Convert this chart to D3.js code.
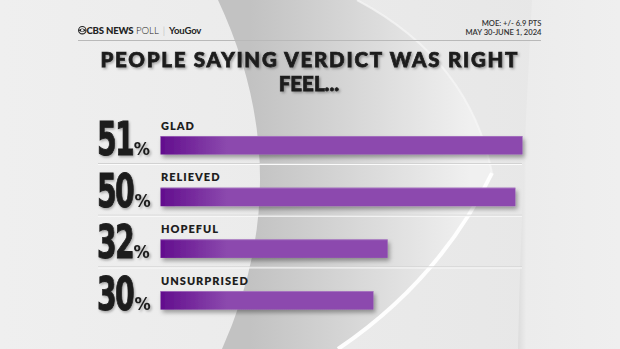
<!DOCTYPE html>
<html><head><meta charset="utf-8">
<script src="https://cdn.jsdelivr.net/npm/d3@7/dist/d3.min.js"></script>
<style>html,body{margin:0;padding:0;background:#ececec;overflow:hidden}svg{display:block}</style>
</head><body>
<script>
const categories = ["GLAD", "RELIEVED", "HOPEFUL", "UNSURPRISED"];
const values = [51, 50, 32, 30];
const titleLines = ["PEOPLE SAYING VERDICT WAS RIGHT", "FEEL..."];
const noteLines = ["MOE: +/- 6.9 PTS", "MAY 30-JUNE 1, 2024"];

const W = 620, H = 349;
const svg = d3.select("body").append("svg").attr("width", W).attr("height", H);
const defs = svg.append("defs");

const bg = defs.append("linearGradient").attr("id","bg").attr("x1",0).attr("x2",1).attr("y1",0).attr("y2",0);
bg.append("stop").attr("offset",0).attr("stop-color","#efefef");
bg.append("stop").attr("offset",1).attr("stop-color","#e6e6e6");
const cr = defs.append("linearGradient").attr("id","cr").attr("gradientUnits","userSpaceOnUse")
  .attr("x1",250).attr("x2",470).attr("y1",0).attr("y2",0);
cr.append("stop").attr("offset",0).attr("stop-color","#c2c2c2");
cr.append("stop").attr("offset",0.45).attr("stop-color","#d6d6d6");
cr.append("stop").attr("offset",1).attr("stop-color","#f0f0f0");
const rp = defs.append("linearGradient").attr("id","rp").attr("x1",0).attr("x2",1).attr("y1",0).attr("y2",0);
rp.append("stop").attr("offset",0).attr("stop-color","#dcdcdc");
rp.append("stop").attr("offset",0.08).attr("stop-color","#ececec");
rp.append("stop").attr("offset",1).attr("stop-color","#efefef");
const barG = defs.append("linearGradient").attr("id","barG").attr("gradientUnits","userSpaceOnUse")
  .attr("x1",160).attr("x2",228).attr("y1",0).attr("y2",0);
barG.append("stop").attr("offset",0).attr("stop-color","#620d8d");
barG.append("stop").attr("offset",1).attr("stop-color","#8c4aae");
const sh = defs.append("filter").attr("id","sh").attr("x","-10%").attr("y","-50%").attr("width","130%").attr("height","250%");
sh.append("feDropShadow").attr("dx",2).attr("dy",3).attr("stdDeviation",2).attr("flood-color","#000").attr("flood-opacity",0.35);
const tsh = defs.append("filter").attr("id","tsh").attr("x","-10%").attr("y","-20%").attr("width","130%").attr("height","150%");
tsh.append("feDropShadow").attr("dx",1.5).attr("dy",1.5).attr("stdDeviation",1.2).attr("flood-color","#000").attr("flood-opacity",0.3);

// background
svg.append("rect").attr("width",W).attr("height",H).attr("fill","url(#bg)");
svg.append("path").attr("d","M532,0 Q522,175 518,349 L620,349 L620,0 Z").attr("fill","url(#rp)");
svg.append("path")
  .attr("d","M218,0 Q300,175 222,349 L338,349 Q440,280 492,173 Q470,60 357,0 Z")
  .attr("fill","url(#cr)");
svg.append("path").attr("d","M338,349 Q440,280 492,173").attr("fill","none")
  .attr("stroke","#ffffff").attr("stroke-width",4).attr("opacity",0.95);
svg.append("path").attr("d","M492,173 Q470,60 357,0").attr("fill","none")
  .attr("stroke","#f6f6f6").attr("stroke-width",2).attr("opacity",0.7);

// header
const hdr = svg.append("g");
hdr.append("line").attr("x1",78).attr("x2",541).attr("y1",40.5).attr("y2",40.5).attr("stroke","#b9b9b9").attr("stroke-width",1);
const eye = hdr.append("g").attr("transform","translate(82.3,30.2)");
eye.append("circle").attr("r",3.7).attr("fill","none").attr("stroke","#222").attr("stroke-width",1.1);
eye.append("path").attr("d","M-3.7,0 Q0,-3.6 3.7,0 Q0,3.6 -3.7,0 Z").attr("fill","#222");
eye.append("circle").attr("r",1.3).attr("fill","#eee");
const logo = hdr.append("text").attr("x",86.5).attr("y",33.8).attr("font-family","Lato, 'Open Sans', sans-serif")
  .attr("font-size",9.6).attr("fill","#222");
logo.append("tspan").attr("font-weight",900).attr("letter-spacing",-0.2).text("CBS NEWS");
logo.append("tspan").attr("font-weight",300).attr("dx",2.5).text("POLL");
logo.append("tspan").attr("font-weight",300).attr("dx",4).attr("fill","#aaa").text("|");
logo.append("tspan").attr("font-weight",700).attr("dx",4).attr("letter-spacing",-0.2).text("YouGov");
hdr.selectAll("text.note").data(noteLines).join("text").attr("class","note")
  .attr("x",541.5).attr("y",(d,i)=>26+i*8.5).attr("text-anchor","end")
  .attr("font-family","Lato, sans-serif").attr("font-weight",600).attr("font-size",7.6).attr("fill","#333").text(d=>d);

// title
svg.selectAll("text.title").data(titleLines).join("text").attr("class","title")
  .attr("x",309).attr("y",(d,i)=>66.5+i*24.5).attr("text-anchor","middle")
  .attr("font-family","Lato, sans-serif").attr("font-weight",900).attr("font-size",20.5)
  .attr("fill","#1e1e1e").attr("stroke","#1e1e1e").attr("stroke-width",0.75).attr("filter","url(#tsh)")
  .attr("textLength",(d,i)=>i===0?417:null).attr("lengthAdjust","spacing")
  .text(d=>d);

// scales
const x = d3.scaleLinear().domain([0,51]).range([160.5,522.5]);
const y = d3.scaleBand().domain(categories).range([136,309.6]).paddingInner(0.642).paddingOuter(0);

// separators
const seps = categories.slice(0,-1);
svg.selectAll("line.sepd").data(seps).join("line").attr("class","sepd")
  .attr("x1",98).attr("x2",522).attr("y1",d=>y(d)+y.bandwidth()+9).attr("y2",d=>y(d)+y.bandwidth()+9)
  .attr("stroke","#d2d2d2").attr("stroke-width",1);
svg.selectAll("line.sepl").data(seps).join("line").attr("class","sepl")
  .attr("x1",98).attr("x2",522).attr("y1",d=>y(d)+y.bandwidth()+10).attr("y2",d=>y(d)+y.bandwidth()+10)
  .attr("stroke","#fbfbfb").attr("stroke-width",1);

const rows = svg.selectAll("g.row").data(categories.map((c,i)=>({c, v:values[i]}))).join("g").attr("class","row");
rows.append("rect").attr("x",x(0)).attr("y",d=>y(d.c)).attr("width",d=>x(d.v)-x(0)).attr("height",y.bandwidth())
  .attr("fill","url(#barG)").attr("filter","url(#sh)");
rows.append("rect").attr("x",x(0)).attr("y",d=>y(d.c)).attr("width",d=>x(d.v)-x(0)).attr("height",0.8)
  .attr("fill","#b58acb").attr("opacity",0.7);
rows.append("text").attr("x",x(0)+0.5).attr("y",d=>y(d.c)-6.5)
  .attr("font-family","Lato, sans-serif").attr("font-weight",800).attr("font-size",11).attr("letter-spacing",1)
  .attr("fill","#1e1e1e").text(d=>d.c);

// big condensed numbers
const NUM_SX = 0.7;
rows.each(function(d){
  const g = d3.select(this);
  const base = y(d.c) + y.bandwidth() + 0.5;
  const ng = g.append("g").attr("transform",`translate(97,${base}) scale(${NUM_SX},1.03)`).attr("filter","url(#tsh)");
  const t = ng.append("text").attr("x",0).attr("y",0)
    .attr("font-family","'DejaVu Sans Condensed', 'DejaVu Sans', sans-serif").attr("font-weight",700)
    .attr("font-size",45).attr("letter-spacing",-2.5).attr("fill","#1e1e1e").attr("stroke","#1e1e1e").attr("stroke-width",0.9)
    .text(d3.format("d")(d.v));
  const bb = t.node().getBBox();
  g.append("text").attr("x",97 + (bb.x+bb.width)*NUM_SX + 0.5).attr("y",base)
    .attr("font-family","'DejaVu Sans Condensed', sans-serif").attr("font-weight",700).attr("font-size",18)
    .attr("fill","#1e1e1e").attr("filter","url(#tsh)").text("%");
});
</script>
</body></html>
